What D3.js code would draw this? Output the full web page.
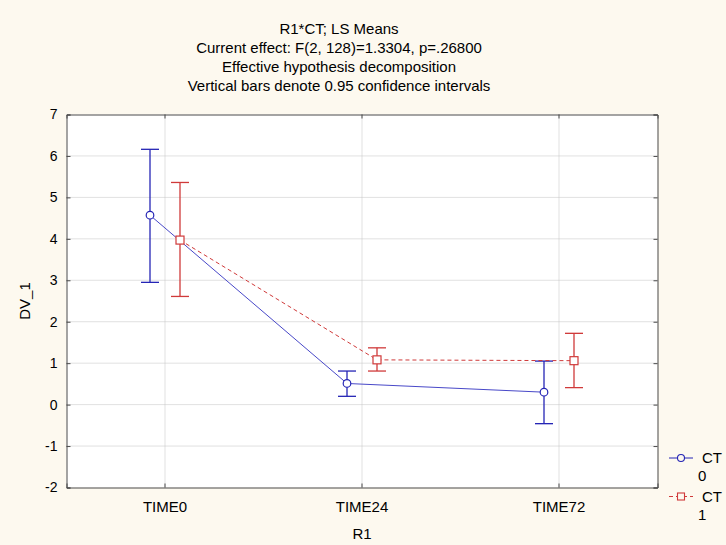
<!DOCTYPE html>
<html>
<head>
<meta charset="utf-8">
<script src="https://cdn.jsdelivr.net/npm/d3@7"></script>
<style>
  html, body { margin: 0; padding: 0; background: #fdf9ef; }
  svg { display: block; }
  text { font-family: "Liberation Sans", Arial, sans-serif; fill: #000; }
</style>
</head>
<body>
<svg id="chart" width="726" height="545"></svg>
<script>
// ---- data ----
const categories = ["TIME0", "TIME24", "TIME72"];
const seriesNames = ["CT 0", "CT 1"];
const ct0Mean  = [4.57, 0.51, 0.30];
const ct0Upper = [6.16, 0.81, 1.05];
const ct0Lower = [2.95, 0.20, -0.46];
const ct1Mean  = [3.97, 1.08, 1.06];
const ct1Upper = [5.36, 1.37, 1.72];
const ct1Lower = [2.61, 0.81, 0.41];
const yTicks = [-2, -1, 0, 1, 2, 3, 4, 5, 6, 7];
const titleLines = [
  "R1*CT; LS Means",
  "Current effect: F(2, 128)=1.3304, p=.26800",
  "Effective hypothesis decomposition",
  "Vertical bars denote 0.95 confidence intervals"
];
const xTitle = "R1";
const yTitle = "DV_1";

// ---- layout ----
const svg = d3.select("#chart");
const L = 66.5, R = 657.5, T = 114.5, B = 487.5;
const blue = "#2525b5", red = "#d03a3a";

const x = d3.scaleBand().domain(categories).range([L, R]).padding(0);
const xc = c => x(c) + x.bandwidth() / 2;
const off = d3.scalePoint().domain(seriesNames).range([-15, 15]);
const y = d3.scaleLinear().domain([-2, 7]).range([B, T]);

// background
svg.append("rect").attr("x", 0).attr("y", 0).attr("width", 726).attr("height", 545).attr("fill", "#fdf9ef");
svg.append("rect").attr("x", L).attr("y", T).attr("width", R - L).attr("height", B - T).attr("fill", "#ffffff");

// grid
const grid = svg.append("g");
grid.selectAll("line.h").data(yTicks.filter(v => v > -2 && v < 7)).join("line")
  .attr("x1", L).attr("x2", R).attr("y1", d => y(d)).attr("y2", d => y(d))
  .attr("stroke", "#c2c2c2").attr("stroke-width", 1).attr("stroke-dasharray", "1,1");
grid.selectAll("line.v").data(categories).join("line")
  .attr("x1", d => xc(d)).attr("x2", d => xc(d)).attr("y1", T).attr("y2", B)
  .attr("stroke", "#c2c2c2").attr("stroke-width", 1).attr("stroke-dasharray", "1,1");

// axes (ticks pointing inward)
const fmt = d => d3.format("d")(d).replace("−", "-");
const axL = svg.append("g").attr("transform", `translate(${L},0)`)
  .call(d3.axisLeft(y).tickValues(yTicks).tickSize(-4).tickPadding(9).tickFormat(fmt));
const axR = svg.append("g").attr("transform", `translate(${R},0)`)
  .call(d3.axisRight(y).tickValues(yTicks).tickSize(-4).tickFormat(""));
const axB = svg.append("g").attr("transform", `translate(0,${B})`)
  .call(d3.axisBottom(x).tickSize(-4).tickPadding(14));
const axT = svg.append("g").attr("transform", `translate(0,${T})`)
  .call(d3.axisTop(x).tickSize(-4).tickFormat(""));
[axL, axR, axB, axT].forEach(g => {
  g.select(".domain").attr("stroke", "#4a4a4a");
  g.selectAll(".tick line").attr("stroke", "#4a4a4a");
  g.selectAll("text").attr("font-size", 14).attr("font-family", "Liberation Sans, Arial, sans-serif").attr("fill", "#000");
});
axB.selectAll("text").attr("font-size", 15);

// titles
svg.append("g").selectAll("text").data(titleLines).join("text")
  .attr("x", 339).attr("y", (d, i) => 34 + i * 19)
  .attr("text-anchor", "middle").attr("font-size", 15).text(d => d);
svg.append("text").attr("x", (L + R) / 2).attr("y", 539).attr("text-anchor", "middle")
  .attr("font-size", 15).text(xTitle);
svg.append("text").attr("transform", `translate(30,${(T + B) / 2}) rotate(-90)`)
  .attr("text-anchor", "middle").attr("font-size", 15).text(yTitle);

// series
const series = [
  { name: "CT 0", mean: ct0Mean, lo: ct0Lower, hi: ct0Upper, color: blue, dash: null, marker: "circle", lineColor: "#4848c8" },
  { name: "CT 1", mean: ct1Mean, lo: ct1Lower, hi: ct1Upper, color: red, dash: "4,3", marker: "square", lineColor: red }
];
const cap = 9;
series.forEach(s => {
  const pts = categories.map((c, i) => ({ x: xc(c) + off(s.name), m: s.mean[i], lo: s.lo[i], hi: s.hi[i] }));
  const g = svg.append("g");
  g.append("path").datum(pts)
    .attr("d", d3.line().x(d => d.x).y(d => y(d.m)))
    .attr("fill", "none").attr("stroke", s.lineColor).attr("stroke-width", 1)
    .attr("stroke-dasharray", s.dash);
  // error bars
  g.selectAll("line.eb").data(pts).join("line")
    .attr("x1", d => d.x).attr("x2", d => d.x).attr("y1", d => y(d.lo)).attr("y2", d => y(d.hi))
    .attr("stroke", s.color).attr("stroke-width", 1.3);
  g.selectAll("line.ct").data(pts).join("line")
    .attr("x1", d => d.x - cap).attr("x2", d => d.x + cap).attr("y1", d => y(d.hi)).attr("y2", d => y(d.hi))
    .attr("stroke", s.color).attr("stroke-width", 1.3);
  g.selectAll("line.cb").data(pts).join("line")
    .attr("x1", d => d.x - cap).attr("x2", d => d.x + cap).attr("y1", d => y(d.lo)).attr("y2", d => y(d.lo))
    .attr("stroke", s.color).attr("stroke-width", 1.3);
  if (s.marker === "circle") {
    g.selectAll("circle").data(pts).join("circle")
      .attr("cx", d => d.x).attr("cy", d => y(d.m)).attr("r", 3.8)
      .attr("fill", "#fff").attr("stroke", s.color).attr("stroke-width", 1.2);
  } else {
    g.selectAll("rect").data(pts).join("rect")
      .attr("x", d => d.x - 4).attr("y", d => y(d.m) - 4).attr("width", 8).attr("height", 8)
      .attr("fill", "#fff").attr("stroke", s.color).attr("stroke-width", 1.2);
  }
});

// legend
const leg = svg.append("g");
series.forEach((s, i) => {
  const ly = 458 + i * 38.5;
  leg.append("line").attr("x1", 669).attr("x2", 693).attr("y1", ly).attr("y2", ly)
    .attr("stroke", s.color).attr("stroke-width", 1).attr("stroke-dasharray", s.dash);
  if (s.marker === "circle") {
    leg.append("circle").attr("cx", 681).attr("cy", ly).attr("r", 3.5)
      .attr("fill", "#fdf9ef").attr("stroke", s.color).attr("stroke-width", 1.1);
  } else {
    leg.append("rect").attr("x", 677.5).attr("y", ly - 3.5).attr("width", 7).attr("height", 7)
      .attr("fill", "#fdf9ef").attr("stroke", s.color).attr("stroke-width", 1.1);
  }
  const parts = s.name.split(" ");
  leg.append("text").attr("x", 702).attr("y", ly + 5).attr("font-size", 15).text(parts[0]);
  leg.append("text").attr("x", 698).attr("y", ly + 23).attr("font-size", 15).text(parts[1]);
});
</script>
</body>
</html>
